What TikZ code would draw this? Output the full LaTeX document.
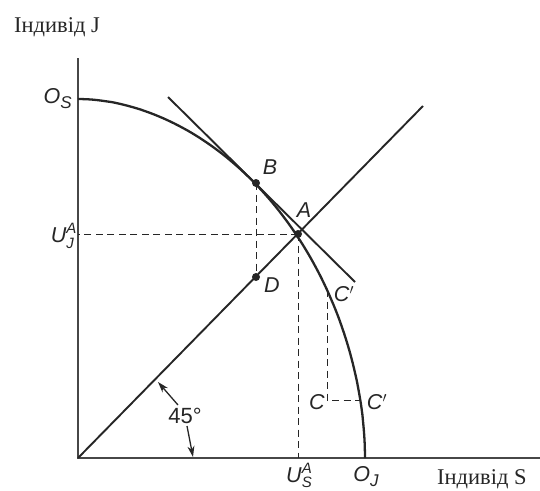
\documentclass[tikz,border=0pt]{standalone}
\usepackage{fontspec}
\setmainfont{Liberation Serif}
\newfontfamily\lsans{Liberation Sans}
\usetikzlibrary{arrows.meta,calc}
\definecolor{ink}{HTML}{262626}
\newcommand\mysupsub[3]{#1\rlap{\raisebox{0.75ex}{\fontsize{15}{15}\selectfont #2}}\raisebox{-0.5ex}{\fontsize{15}{15}\selectfont #3}}
\begin{document}
\begin{tikzpicture}[x=1pt,y=-1pt,
  lbl/.style={font=\lsans\itshape\fontsize{21.5}{25}\selectfont, inner sep=1pt, text=ink},
  ttl/.style={font=\fontsize{22.5}{26}\selectfont, inner sep=0pt, text=ink},
  dotnode/.style={circle,fill=ink,inner sep=0pt,minimum size=8pt},
  axisline/.style={line width=1.2pt, draw=ink!85},
  curveline/.style={line width=2.3pt, draw=ink},
  tanline/.style={line width=1.9pt, draw=ink},
  dashline/.style={line width=1pt, draw=ink, dash pattern=on 7pt off 4.5pt},
  arr/.style={line width=1.3pt, draw=ink, -{Stealth[length=11pt,width=7pt]}}
]
\useasboundingbox (0,0) rectangle (540,490);
% axes
\coordinate (O) at (78,458);
\coordinate (Ytop) at (78,58);
\coordinate (Xend) at (540,458);
\draw[axisline] (Ytop) -- (O) -- (Xend);
% frontier
\coordinate (OS) at (78,99);
\coordinate (OJ) at (365,458);
\draw[curveline] (OS) -- plot[domain=89.5:0.5, samples=90, variable=\t]
  ({78+287*pow(cos(\t),1.0526)},{458-359*pow(sin(\t),1.0526)}) -- (OJ);
% 45 degree line
\coordinate (Ltop) at (423,106);
\draw[tanline] (O) -- (Ltop);
% tangent line
\coordinate (T1) at (168,97);
\coordinate (T2) at (355,282);
\draw[tanline] (T1) -- (T2);
% points
\node[dotnode] (A) at (298,234) {};
\node[dotnode] (B) at (256,183) {};
\node[dotnode] (D) at (256,277) {};
\coordinate (Cp1) at (327,290);
\coordinate (C) at (327,400);
\coordinate (Cp2) at (360.3,400);
% dashed
\draw[dashline] (A.center) -- (A.center -| O);
\draw[dashline] (A.center) -- (A.center |- O);
\draw[dashline] (B.center) -- (D.center);
\draw[dashline] (Cp1) -- (C) -- (Cp2);
% labels
\node[lbl] (lA) at (304,210) {A};
\node[lbl] (lB) at (270,167) {B};
\node[lbl] (lD) at (272,285) {D};
\node[lbl] (lC1) at (344,294) {C\/$'$};
\node[lbl] (lC) at (317,402) {C};
\node[lbl] (lC2) at (377,402) {C\/$'$};
\node[lbl, anchor=east] (lOS) at (73,99) {O\raisebox{-0.45ex}{\fontsize{17}{17}\selectfont S}};
\node[lbl, anchor=east] (lUJ) at (75,236) {\mysupsub{U}{A}{J}};
\node[lbl, anchor=north] (lUS) at (299,462) {\mysupsub{U}{A}{S}};
\node[lbl, anchor=north] (lOJ) at (366,465) {O\raisebox{-0.45ex}{\fontsize{17}{17}\selectfont J}};
\node[ttl, anchor=base west] (tJ) at (14,32) {Індивід J};
\node[ttl, anchor=base west] (tS) at (437,484) {Індивід S};
% 45 degree mark
\node[lbl, font=\lsans\fontsize{22}{26}\selectfont] (ang) at (185,416) {45°};
\coordinate (a1) at (158,382);
\coordinate (a2) at (193,457);
\draw[arr] (ang.north) ++(-7,-2) -- (a1);
\draw[arr] (ang.south) ++(2,1) -- (a2);
\end{tikzpicture}
\end{document}
